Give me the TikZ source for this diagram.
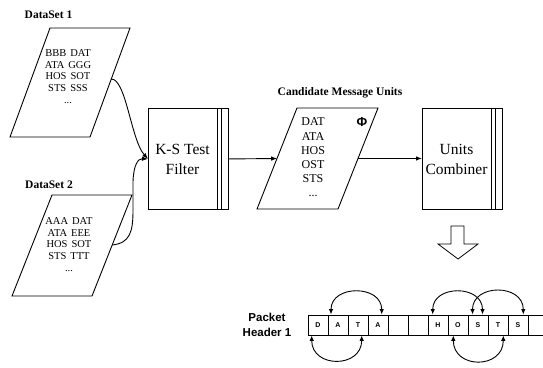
\documentclass[tikz,border=0pt]{standalone}
\usepackage{fontspec}
\setmainfont{Liberation Serif}
\newfontfamily\sansf{Liberation Sans}
\usetikzlibrary{arrows.meta}
\newcommand{\wsp}{\hspace{4pt}}
\begin{document}
\begin{tikzpicture}[x=1pt,y=-1pt, line width=0.9pt,
  arr/.style={-{Latex[length=6pt,width=4.5pt]}},
  darr/.style={{Latex[length=5.5pt,width=4.5pt]}-{Latex[length=5.5pt,width=4.5pt]}},
  title/.style={font=\fontsize{11.5}{13}\selectfont\bfseries, inner sep=0},
  dstext/.style={align=center, font=\fontsize{10.5}{11.7}\selectfont, inner sep=0},
  boxtext/.style={align=center, font=\fontsize{15.5}{20}\selectfont, inner sep=0},
  stackbox/.style={draw, minimum width=80pt, minimum height=101pt, inner sep=0, anchor=north west},
  cell/.style={draw, minimum width=20pt, minimum height=20pt, inner sep=0, anchor=north west,
    font=\sansf\bfseries\fontsize{7}{8}\selectfont},
]
\useasboundingbox (0,0) rectangle (543,367);

% DataSet 1
\node[title] (ds1title) at (48.5,15) {DataSet 1};
\draw (50,28) -- (130,28) -- (90,137) -- (10,137) -- cycle;
\node[dstext] (ds1text) at (68,76.5) {BBB\wsp DAT\\ATA\wsp GGG\\HOS\wsp SOT\\STS\wsp SSS\\...};
\coordinate (ds1out) at (111,79);

% DataSet 2
\node[title] (ds2title) at (49,185) {DataSet 2};
\draw (52,195) -- (132,195) -- (92,296) -- (12,296) -- cycle;
\node[dstext] (ds2text) at (69,244.5) {AAA\wsp DAT\\ATA\wsp EEE\\HOS\wsp SOT\\STS\wsp TTT\\...};
\coordinate (ds2out) at (112.2,245);

% K-S Test Filter
\node[stackbox] (ks) at (148,108) {};
\draw ([xshift=-11pt]ks.north east) -- ([xshift=-11pt]ks.south east);
\draw ([xshift=-7pt]ks.north east) -- ([xshift=-7pt]ks.south east);
\node[boxtext] (kstext) at (182.5,159) {K-S Test\\Filter};

% curves into K-S
\draw[arr] (ds1out) .. controls (126,78) and (131,140) .. (ks.west);
\draw[arr] (ds2out) .. controls (130,243) and (133,232) .. (133,210) -- (133,182)
  .. controls (133.5,165) and (138,158.5) .. (ks.west);

% Candidate Message Units
\node[title] (candtitle) at (340,93) {Candidate Message Units};
\draw (297,108) -- (378,108) -- (338,209) -- (257,209) -- cycle;
\node[dstext, font=\fontsize{12}{14.2}\selectfont] (candtext) at (313,157.5) {DAT\\ATA\\HOS\\OST\\STS\\...};
\node[font=\sansf\bfseries\fontsize{13}{14}\selectfont, inner sep=0] (phi) at (362,122) {Φ};
\coordinate (candin) at (277.2,158.5);
\coordinate (candout) at (358.2,158.5);

\draw[arr] (ks.east) -- (candin);

% Units Combiner
\node[stackbox] (uc) at (422,107.5) {};
\draw ([xshift=-11pt]uc.north east) -- ([xshift=-11pt]uc.south east);
\draw ([xshift=-7pt]uc.north east) -- ([xshift=-7pt]uc.south east);
\node[boxtext] (uctext) at (456.5,159) {Units\\Combiner};

\draw[arr] (candout) -- (uc.west);

% block down arrow
\draw[line width=0.8pt] (451,226) -- (464,226) -- (464,244) -- (478,244) -- (458,259)
  -- (438,244) -- (451,244) -- cycle;

% Packet header
\node[align=center, font=\sansf\bfseries\fontsize{11.5}{15}\selectfont, inner sep=0] (ph) at (267,324.5) {Packet\\Header 1};
\foreach \i/\l in {0/D,1/A,2/T,3/A,4/,5/,6/H,7/O,8/S,9/T,10/S,11/}
  \node[cell] (c\i) at (307.5+20*\i,314.5) {\l};

\draw[darr] ([xshift=3.5pt]c1.north west) .. controls +(0,-30) and +(0,-30) .. ([xshift=14.2pt]c3.north west);
\draw[darr] ([xshift=5.2pt]c6.north west) .. controls +(0,-30) and +(0,-30) .. ([xshift=15pt]c8.north west);
\draw[darr] ([xshift=5pt]c8.north west) .. controls +(0,-31) and +(0,-31) .. ([xshift=15.8pt]c10.north west);
\draw[darr] ([xshift=4.2pt]c0.south west) .. controls +(0,33) and +(0,33) .. ([xshift=14.2pt]c2.south west);
\draw[darr] ([xshift=5.8pt]c7.south west) .. controls +(0,34) and +(0,34) .. ([xshift=15.8pt]c9.south west);
\end{tikzpicture}
\end{document}
